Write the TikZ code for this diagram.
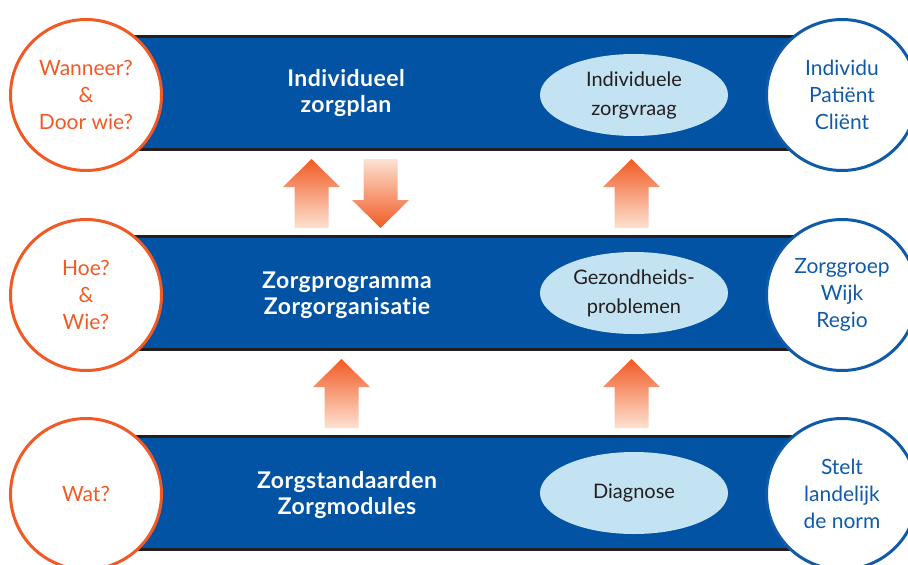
\documentclass[tikz,border=0pt]{standalone}
\usepackage{fontspec}
\setmainfont{Lato}
\newfontfamily\bandfont{Lato}[LetterSpace=2, Ligatures=NoCommon]
\usepackage{xcolor}
\usetikzlibrary{shapes.geometric}
\usetikzlibrary{positioning}

\definecolor{zorgblauw}{RGB}{2,83,163}
\definecolor{lichtblauw}{RGB}{196,227,242}
\definecolor{oranje}{RGB}{241,90,36}
\definecolor{bleekoranje}{RGB}{253,226,210}
\definecolor{cirkelblauw}{RGB}{16,90,168}
\definecolor{randzwart}{RGB}{35,31,32}

% block arrows, tip at (#1,#2)
\newcommand{\pijlop}[2]{\shade[top color=oranje, bottom color=bleekoranje]
  (#1,#2) -- ++(28.5,28) -- ++(-11.5,0) -- ++(0,41) -- ++(-34,0) -- ++(0,-41) -- ++(-11.5,0) -- cycle;}
\newcommand{\pijlneer}[2]{\shade[top color=bleekoranje, bottom color=oranje]
  (#1,#2) -- ++(28.5,-28) -- ++(-11.5,0) -- ++(0,-41) -- ++(-34,0) -- ++(0,41) -- ++(-11.5,0) -- cycle;}

\begin{document}
\begin{tikzpicture}[x=1pt, y=-1pt,
  band/.style={rectangle, fill=zorgblauw, draw=randzwart, line width=3pt,
    minimum width=750pt, minimum height=113pt, inner sep=0pt},
  vraag/.style={circle, fill=white, draw=oranje, line width=3pt, minimum size=151pt,
    inner sep=0pt, align=center, text=oranje, font=\fontsize{21}{27}\selectfont},
  niveau/.style={circle, fill=white, draw=cirkelblauw, line width=3pt, minimum size=151pt,
    inner sep=0pt, align=center, text=cirkelblauw, font=\fontsize{21}{27}\selectfont},
  bandtekst/.style={align=center, text=white, font=\bandfont\bfseries\fontsize{23}{26}\selectfont},
  ovaal/.style={ellipse, fill=lichtblauw, minimum width=188pt, minimum height=82pt,
    inner sep=0pt, align=center, text=randzwart, font=\fontsize{20}{29}\selectfont},
]
\useasboundingbox (0,0) rectangle (908,565);

  % Bands
  \node[band] (b1) at (465,93)  {};
  \node[band] (b2) at (465,293) {};
  \node[band] (b3) at (465,493) {};

  \node[bandtekst] (t1) at (346,93)  {Individueel\\zorgplan};
  \node[bandtekst] (t2) at (347,295) {Zorgprogramma\\Zorgorganisatie};
  \node[bandtekst] (t3) at (347,495) {Zorgstandaarden\\Zorgmodules};

  \node[ovaal] (o1) at (634,95)  {Individuele\\zorgvraag};
  \node[ovaal] (o2) at (634,293) {Gezondheids-\\problemen};
  \node[ovaal] (o3) at (634,493) {Diagnose};

  % Circles
  \node[vraag] (v1) at (86,95)  {Wanneer?\\\&\\Door wie?};
  \node[vraag] (v2) at (86,295) {Hoe?\\\&\\Wie?};
  \node[vraag] (v3) at (86,494) {Wat?};

  \node[niveau] (n1) at (842,95)  {Individu\\Patiënt\\Cliënt};
  \node[niveau] (n2) at (842,295) {Zorggroep\\Wijk\\Regio};
  \node[niveau] (n3) at (842,494) {Stelt\\landelijk\\de norm};

  % Arrows
  \pijlop{311.5}{159}
  \pijlneer{380.5}{228}
  \pijlop{631.5}{159}
  \pijlop{341.5}{359}
  \pijlop{631.5}{359}

\end{tikzpicture}
\end{document}
